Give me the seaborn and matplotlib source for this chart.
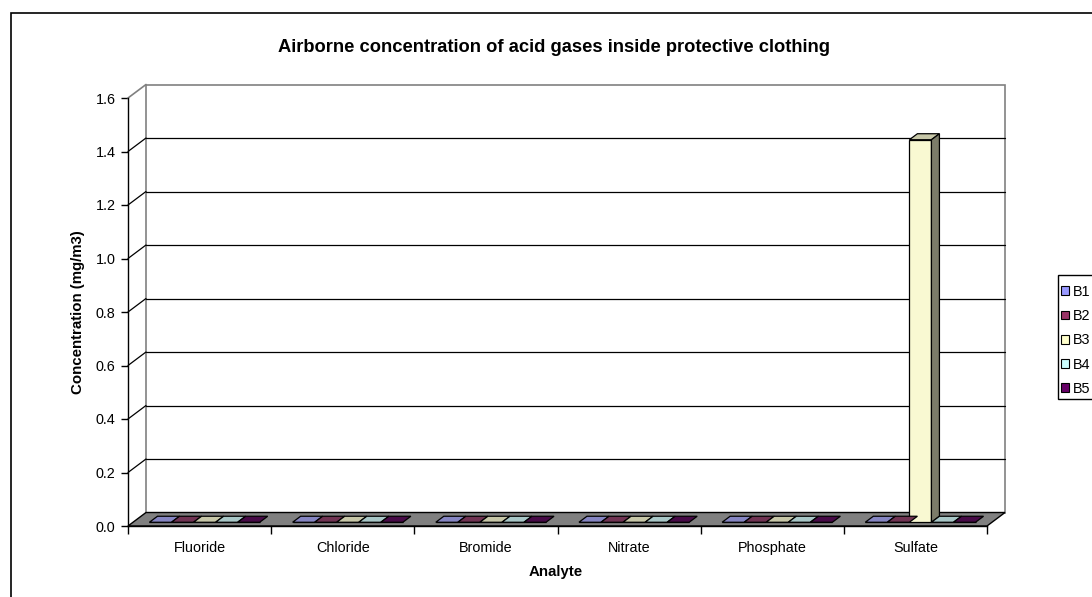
import numpy as np
import pandas as pd
import matplotlib
matplotlib.use("Agg")
import matplotlib.pyplot as plt
import seaborn as sns
from matplotlib.patches import Polygon, Rectangle, Patch
from matplotlib.lines import Line2D

# ---- data -------------------------------------------------------------
analytes = ["Fluoride", "Chloride", "Bromide", "Nitrate", "Phosphate", "Sulfate"]
samples = ["B1", "B2", "B3", "B4", "B5"]
b1 = [0.0, 0.0, 0.0, 0.0, 0.0, 0.0]
b2 = [0.0, 0.0, 0.0, 0.0, 0.0, 0.0]
b3 = [0.0, 0.0, 0.0, 0.0, 0.0, 1.43]
b4 = [0.0, 0.0, 0.0, 0.0, 0.0, 0.0]
b5 = [0.0, 0.0, 0.0, 0.0, 0.0, 0.0]
y_ticks = [0.0, 0.2, 0.4, 0.6, 0.8, 1.0, 1.2, 1.4, 1.6]
colors = ["#9999FF", "#993366", "#FFFFCC", "#CCFFFF", "#660066"]

df = pd.DataFrame({
    "Analyte": analytes * len(samples),
    "Sample": np.repeat(samples, len(analytes)),
    "Concentration": b1 + b2 + b3 + b4 + b5,
})

# ---- figure geometry (pixels) -----------------------------------------
W, H, DPI = 1092, 597, 100
PL, PR, PT, PB = 128, 987, 98, 526       # front plane of the plot area
DEPTH_X, DEPTH_Y = 18, 13.5              # 3-D depth of the walls
BAR_OFF_X, BAR_OFF_Y = 5, 3.75           # bar front face inside the depth
BAR_D_X, BAR_D_Y = 8, 6                  # depth of each column

sns.set_style("white")
plt.rcParams["font.family"] = ["Liberation Sans", "DejaVu Sans"]
plt.rcParams["text.color"] = "black"
FS = 10.4

fig = plt.figure(figsize=(W / DPI, H / DPI), dpi=DPI)
fig.patch.set_facecolor("white")
ax = fig.add_axes([PL / W, 1 - PB / H, (PR - PL) / W, (PB - PT) / H])
ax.set_facecolor("none")

sns.barplot(data=df, x="Analyte", y="Concentration", hue="Sample",
            palette=colors, width=0.77, edgecolor="black", linewidth=0.9,
            errorbar=None, legend=False, ax=ax, zorder=3)
bars = list(ax.patches)

ax.set_xlim(-0.5, len(analytes) - 0.5)
ax.set_ylim(y_ticks[0], y_ticks[-1])

ppx = (PR - PL) / len(analytes)
ppy = (PB - PT) / (y_ticks[-1] - y_ticks[0])
Dx, Dy = DEPTH_X / ppx, DEPTH_Y / ppy
ox, oy = BAR_OFF_X / ppx, BAR_OFF_Y / ppy
bx, by = BAR_D_X / ppx, BAR_D_Y / ppy
x_lo, x_hi = -0.5, len(analytes) - 0.5
y_top = y_ticks[-1]


def shade(c, f):
    r, g, b, a = matplotlib.colors.to_rgba(c)
    return (r * f, g * f, b * f, a)


# back wall, floor and gridlines
ax.add_patch(Rectangle((x_lo + Dx, Dy), x_hi - x_lo, y_top, facecolor="white",
                       edgecolor="#808080", linewidth=1.2, zorder=0.5, clip_on=False))
ax.add_patch(Polygon([(x_lo, 0), (x_hi, 0), (x_hi + Dx, Dy), (x_lo + Dx, Dy)],
                     closed=True, facecolor="#808080", edgecolor="black",
                     linewidth=1.0, zorder=1, clip_on=False))
for v in y_ticks[1:-1]:
    ax.add_line(Line2D([x_lo + Dx, x_hi + Dx], [v + Dy, v + Dy], color="black",
                       linewidth=0.9, zorder=1, clip_on=False))
    ax.add_line(Line2D([x_lo, x_lo + Dx], [v, v + Dy], color="black",
                       linewidth=0.9, zorder=1, clip_on=False))
ax.add_line(Line2D([x_lo, x_lo + Dx], [y_top, y_top + Dy], color="#808080",
                   linewidth=1.2, zorder=1, clip_on=False))

# give each column a top and a side face
for p in sorted(bars, key=lambda r: r.get_x()):
    fc = p.get_facecolor()
    x0 = p.get_x() + ox
    w = p.get_width()
    h = p.get_height()
    p.set_x(x0)
    p.set_y(oy)
    x1 = x0 + w
    y0, y1 = oy, oy + h
    top = Polygon([(x0, y1), (x1, y1), (x1 + bx, y1 + by), (x0 + bx, y1 + by)],
                  closed=True, facecolor=shade(fc, 0.8), edgecolor="black",
                  linewidth=0.9, zorder=3, clip_on=False)
    ax.add_patch(top)
    if h > 0:
        side = Polygon([(x1, y0), (x1 + bx, y0 + by), (x1 + bx, y1 + by), (x1, y1)],
                       closed=True, facecolor=shade(fc, 0.5), edgecolor="black",
                       linewidth=0.9, zorder=3, clip_on=False)
        ax.add_patch(side)

# axes, ticks and labels
for s in ("top", "right"):
    ax.spines[s].set_visible(False)
for s in ("left", "bottom"):
    ax.spines[s].set_color("black")
    ax.spines[s].set_linewidth(1.0)
    ax.spines[s].set_zorder(4)

ax.set_yticks(y_ticks)
ax.set_yticklabels([f"{v:.1f}" for v in y_ticks])
ax.set_xticks(np.arange(x_lo, x_hi + 0.01, 1.0))
ax.set_xticklabels([])
ax.set_xticks(np.arange(len(analytes)), minor=True)
ax.set_xticklabels(analytes, minor=True)
ax.tick_params(axis="y", which="major", left=True, direction="out", length=5,
               width=1, color="black", pad=4.0, labelsize=FS, labelcolor="black")
ax.tick_params(axis="x", which="major", bottom=True, direction="out", length=6,
               width=1, color="black")
ax.tick_params(axis="x", which="minor", bottom=True, length=0, pad=11,
               labelsize=FS, labelcolor="black")
ax.set_xlabel("")
ax.set_ylabel("")

fig.text(556 / W, 1 - 572 / H, "Analyte", ha="center", va="center",
         fontsize=10.8, fontweight="bold", color="black")
fig.text(78 / W, 1 - 312 / H, "Concentration (mg/m3)", ha="center", va="center",
         rotation=90, fontsize=10.8, fontweight="bold", color="black")
fig.text(554 / W, 1 - 47 / H,
         "Airborne concentration of acid gases inside protective clothing",
         ha="center", va="center", fontsize=13.2, fontweight="bold", color="black")

# chart frame
fig.add_artist(Rectangle((11 / W, -0.1), 2.0, 1 - 13 / H + 0.1, transform=fig.transFigure,
                         fill=False, edgecolor="black", linewidth=1.2))

# legend
fig.add_artist(Rectangle((1058 / W, 1 - 399 / H), 60 / W, 124 / H,
                         transform=fig.transFigure, facecolor="white",
                         edgecolor="black", linewidth=1.0))
handles = [Patch(facecolor=c, edgecolor="black", linewidth=0.8) for c in colors]
fig.legend(handles, samples, loc="upper left", bbox_to_anchor=(1058 / W, 1 - 282 / H),
           frameon=False, borderpad=0.2, borderaxespad=0, handlelength=0.55,
           handleheight=0.55, handletextpad=0.25, labelspacing=0.71, fontsize=FS,
           labelcolor="black")

fig.savefig("out.png", dpi=DPI)
